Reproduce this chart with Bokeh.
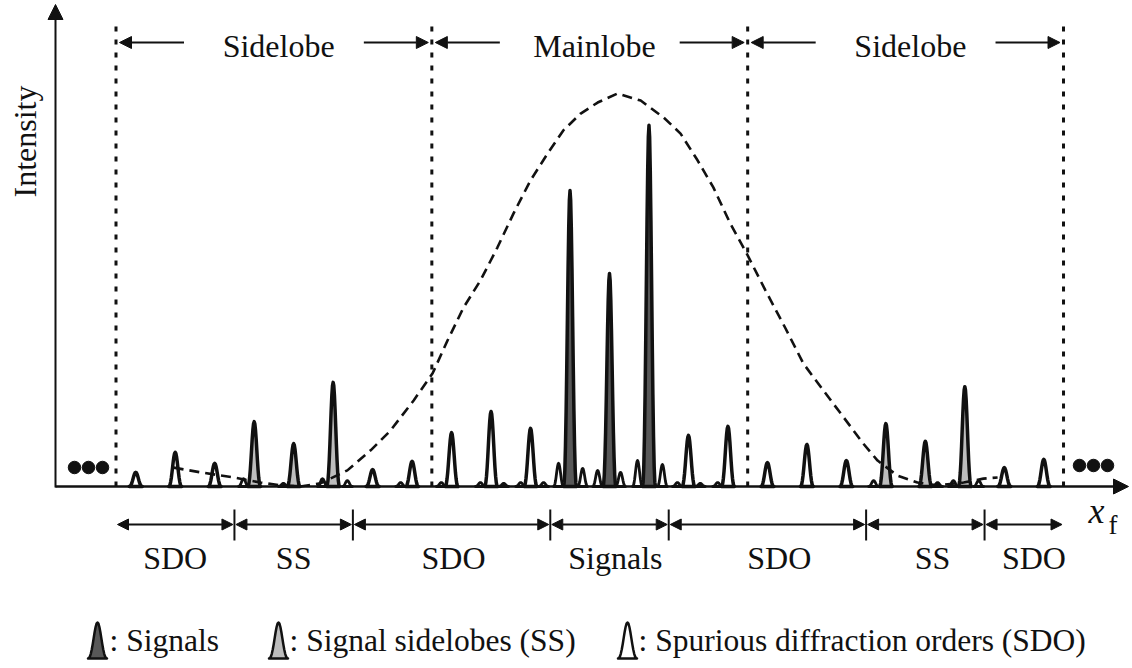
from bokeh.plotting import figure
from bokeh.models import Range1d, ColumnDataSource, Arrow, NormalHead
from bokeh.core.properties import value
from bokeh.embed import file_html
from bokeh.resources import INLINE

# ---------------- data ----------------
# x: diffraction-order position (peak spacing = 1), y: intensity (envelope peak = 1)
peak_order = [-12, -11, -10, -9, -8, -7, -6, -5, -4, -3, -2, -1,
              0, 1, 2, 3, 4, 5, 6, 7, 8, 9, 10, 11]
peak_intensity = [0.036, 0.087, 0.059, 0.165, 0.109, 0.265, 0.043, 0.064,
                  0.137, 0.191, 0.148, 0.753, 0.542, 0.919, 0.130, 0.153,
                  0.061, 0.107, 0.066, 0.160, 0.115, 0.254, 0.048, 0.069]
peak_kind = ["SDO", "SDO", "SDO", "SS", "SS", "SS", "SDO", "SDO",
             "SDO", "SDO", "SDO", "Signal", "Signal", "Signal", "SDO", "SDO",
             "SDO", "SDO", "SDO", "SS", "SS", "SS", "SDO", "SDO"]

# small secondary maxima on the trace
minor_order = [-1.29, -0.68, -0.30, 0.28, 0.71, 1.34,
               -9.27, -8.26, -7.27, -6.64, 6.69, 8.31, 8.71, 9.35,
               -5.29, -4.26, -3.27, -2.68, -2.25, -1.67, 1.72, 2.30, 2.74]
minor_intensity = [0.059, 0.046, 0.041, 0.036, 0.066, 0.056,
                   0.020, 0.008, 0.020, 0.015, 0.015, 0.010, 0.015, 0.015,
                   0.010, 0.010, 0.010, 0.008, 0.010, 0.010, 0.010, 0.008, 0.010]

# dashed envelope
envelope_order = [-11.04, -10.36, -9.52, -8.84, -8.33, -7.83, -7.32, -6.64,
                  -6.05, -5.55, -4.96, -4.48, -4.10, -3.70, -3.27, -2.84,
                  -2.43, -2.00, -1.57, -1.17, -0.73, -0.30, 0.20, 0.79,
                  1.37, 1.80, 2.23, 2.63, 3.06, 3.50, 3.95, 4.46, 4.91,
                  5.42, 5.93, 6.43, 6.79, 7.29, 7.80, 8.31, 8.97, 9.47, 9.83]
envelope_intensity = [0.048, 0.036, 0.023, 0.010, 0.003, 0.000, 0.008, 0.041,
                      0.092, 0.142, 0.219, 0.288, 0.372, 0.455, 0.524, 0.608,
                      0.695, 0.779, 0.847, 0.906, 0.949, 0.977, 1.000, 0.982,
                      0.939, 0.898, 0.830, 0.761, 0.669, 0.588, 0.499, 0.402,
                      0.313, 0.244, 0.176, 0.109, 0.066, 0.028, 0.010, 0.003,
                      0.010, 0.020, 0.023]

lobe_edges = [-12.5, -4.5, 3.5, 11.5]
lobe_names = ["Sidelobe", "Mainlobe", "Sidelobe"]
band_edges = [-12.5, -9.5, -6.5, -1.5, 1.5, 6.5, 9.5, 11.5]
band_names = ["SDO", "SS", "SDO", "Signals", "SDO", "SS", "SDO"]
legend_kinds = ["Signal", "SS", "SDO"]
legend_texts = [": Signals", ": Signal sidelobes (SS)",
                ": Spurious diffraction orders (SDO)"]

# ---------------- styles ----------------
FONT = "Liberation Serif"
INK = "#111111"
FILL = {"Signal": "#585858", "SS": "#bdbdbd", "SDO": "#ffffff"}
PROFILE_U = [-1.0, -0.9, -0.8, -0.7, -0.6, -0.5, -0.4, -0.3, -0.2, -0.1, 0.0,
             0.1, 0.2, 0.3, 0.4, 0.5, 0.6, 0.7, 0.8, 0.9, 1.0]
PROFILE_H = [0.0, 0.012, 0.055, 0.138, 0.255, 0.405, 0.573, 0.737, 0.875, 0.968, 1.0,
             0.968, 0.875, 0.737, 0.573, 0.405, 0.255, 0.138, 0.055, 0.012, 0.0]
BAND_LABEL_NUDGE = [0.0, 0.0, 0.05, 0.15, 0.3, 0.18, 0.25]   # layout nudges (order units)

# layout helpers (screen pixel -> data)
W, H = 1132, 668
X0_PX, PX_PER_ORDER = 609.0, 39.48
BASE_PX, PX_PER_UNIT = 486.0, 393.0


def sx(px):
    return (px - X0_PX) / PX_PER_ORDER


def sy(py):
    return (BASE_PX - py) / PX_PER_UNIT


def shape(x0, y0, h, hw):
    return ([x0 + u * hw for u in PROFILE_U], [y0 + h * v for v in PROFILE_H])


p = figure(width=W, height=H, x_range=Range1d(sx(0), sx(W)),
           y_range=Range1d(sy(H), sy(0)), x_axis_type=None, y_axis_type=None,
           min_border=0, toolbar_location=None, output_backend="svg",
           outline_line_color=None, background_fill_color="white")

# vertical dotted lobe boundaries
p.segment(x0=lobe_edges, y0=[0] * len(lobe_edges), x1=lobe_edges,
          y1=[sy(20)] * len(lobe_edges), line_color=INK, line_width=3,
          line_dash="5 8")

# minor maxima
HW = 6.5 / PX_PER_ORDER
mxs, mys = [], []
for xo, yi in zip(minor_order, minor_intensity):
    a, b = shape(xo, 0.0, yi, 5.0 / PX_PER_ORDER)
    mxs.append(a)
    mys.append(b)
p.patches(mxs, mys, fill_color="white", line_color=INK, line_width=2.8,
          line_join="round")

# main peaks
pxs, pys, pcol = [], [], []
for xo, yi, k in zip(peak_order, peak_intensity, peak_kind):
    a, b = shape(xo, 0.0, yi, HW)
    pxs.append(a)
    pys.append(b)
    pcol.append(FILL[k])
p.patches(pxs, pys, fill_color=pcol, line_color=INK, line_width=3.5,
          line_join="round")

# envelope
p.line(envelope_order, envelope_intensity, line_color=INK, line_width=2.6,
       line_dash="10 6")

# axes with arrow heads
p.add_layout(Arrow(end=NormalHead(size=15, fill_color=INK, line_color=INK),
                   x_start=sx(55), y_start=sy(487), x_end=sx(55), y_end=sy(4),
                   line_color=INK, line_width=2))
p.add_layout(Arrow(end=NormalHead(size=15, fill_color=INK, line_color=INK),
                   x_start=sx(55), y_start=0, x_end=sx(1128), y_end=0,
                   line_color=INK, line_width=2.5))

# ellipsis dots
p.scatter([sx(74), sx(88), sx(102)], [sy(467)] * 3, size=12.5, color=INK)
p.scatter([sx(1079), sx(1093), sx(1107)], [sy(465)] * 3, size=12.5, color=INK)

# top lobe arrows + labels
y_top = sy(42)
tip, tail = 3.5 / PX_PER_ORDER, 68 / PX_PER_ORDER
ax0, ax1 = [], []
for i in range(len(lobe_names)):
    l, r = lobe_edges[i], lobe_edges[i + 1]
    ax0 += [l + tail, r - tail]
    ax1 += [l + tip, r - tip]
p.add_layout(Arrow(end=NormalHead(size=12, fill_color=INK, line_color=INK),
                   source=ColumnDataSource(dict(x0=ax0, x1=ax1,
                                                y=[y_top] * len(ax0))),
                   x_start="x0", y_start="y", x_end="x1", y_end="y",
                   line_color=INK, line_width=2))
lobe_cx = [(lobe_edges[i] + lobe_edges[i + 1]) / 2 + 0.12 for i in range(len(lobe_names))]
p.text(lobe_cx, [sy(45)] * len(lobe_cx), text=lobe_names, text_font=value(FONT),
       text_font_size="32px", text_align="center", text_baseline="middle",
       text_color=INK)

# bottom band arrows + labels
y_b = sy(524)
gap = 1.5 / PX_PER_ORDER
bx0 = [band_edges[i] + gap for i in range(len(band_names))]
bx1 = [band_edges[i + 1] - gap for i in range(len(band_names))]
p.add_layout(Arrow(start=NormalHead(size=11, fill_color=INK, line_color=INK),
                   end=NormalHead(size=11, fill_color=INK, line_color=INK),
                   source=ColumnDataSource(dict(x0=bx0, x1=bx1,
                                                y=[y_b] * len(bx0))),
                   x_start="x0", y_start="y", x_end="x1", y_end="y",
                   line_color=INK, line_width=2))
inner = band_edges[1:-1]
p.segment(x0=inner, y0=[sy(509)] * len(inner), x1=inner,
          y1=[sy(540)] * len(inner), line_color=INK, line_width=2)
band_cx = [(band_edges[i] + band_edges[i + 1]) / 2 + BAND_LABEL_NUDGE[i]
           for i in range(len(band_names))]
p.text(band_cx, [sy(557)] * len(band_cx), text=band_names, text_font=value(FONT),
       text_font_size="32px", text_align="center", text_baseline="middle",
       text_color=INK)

# axis labels
p.text([sx(24)], [sy(141)], text=["Intensity"], angle=1.5707963,
       text_font=value(FONT), text_font_size="32px", text_align="center",
       text_baseline="middle", text_color=INK)
p.text([sx(1088)], [sy(510)], text=["x"], text_font=value(FONT),
       text_font_style="italic", text_font_size="36px", text_align="left",
       text_baseline="middle", text_color=INK)
p.text([sx(1108)], [sy(524)], text=["f"], text_font=value(FONT),
       text_font_size="27px", text_align="left", text_baseline="middle",
       text_color=INK)

# legend
icon_x = [sx(97), sx(278), sx(627)]
text_x = [sx(109), sx(289), sx(638)]
lxs, lys, lcol = [], [], []
for cx, k in zip(icon_x, legend_kinds):
    a, b = shape(cx, sy(658), sy(622) - sy(658), 9.5 / PX_PER_ORDER)
    lxs.append(a)
    lys.append(b)
    lcol.append(FILL[k])
p.patches(lxs, lys, fill_color=lcol, line_color=INK, line_width=2.5,
          line_join="round")
p.text(text_x, [sy(640)] * 3, text=legend_texts, text_font=value(FONT),
       text_font_size="31.5px", text_align="left", text_baseline="middle",
       text_color=INK)

open("out.html", "w").write(file_html(p, INLINE))
